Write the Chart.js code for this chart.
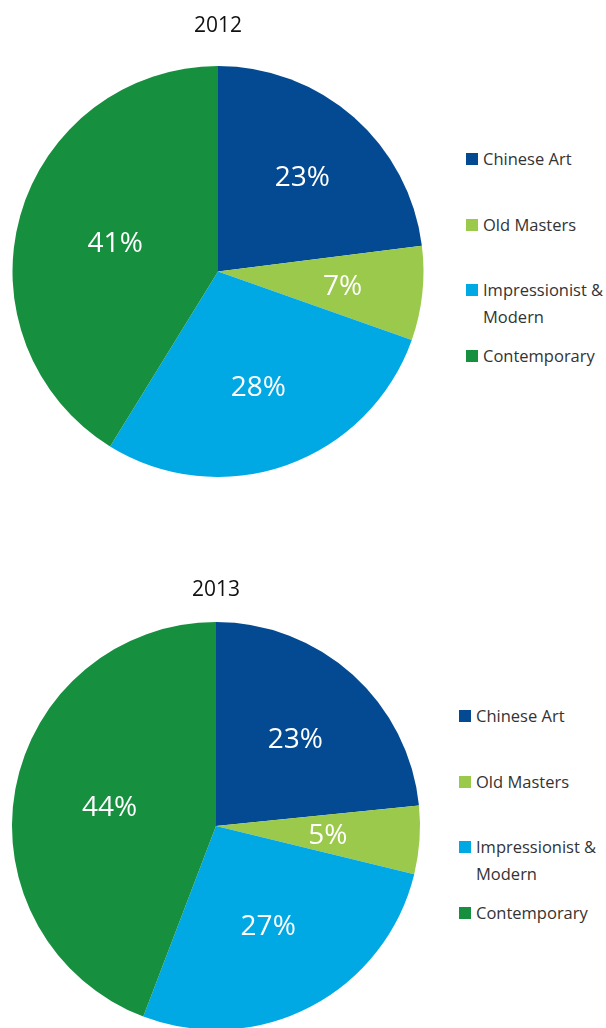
<!DOCTYPE html>
<html>
<head>
<meta charset="utf-8">
<script src="https://cdn.jsdelivr.net/npm/chart.js@4/dist/chart.umd.min.js"></script>
<style>
  html, body { margin:0; padding:0; background:#fff; overflow:hidden; }
  body { width:606px; height:1028px; position:relative; font-family:"Open Sans", sans-serif; }
  .box { position:absolute; }
  .legend { position:absolute; color:#333; font-size:16.5px; line-height:27px; }
  .legend .item { display:flex; align-items:flex-start; height:65.7px; }
  .legend .sw { width:12px; height:12px; margin-top:8px; margin-right:5px; flex:none; }
  .legend .tx { width:132px; }
</style>
</head>
<body>
<div class="box" style="left:0;top:0;width:436px;height:477px"><canvas id="chart2012"></canvas></div>
<div class="legend" id="legend2012" style="left:466px;top:145px"></div>
<div class="box" style="left:0;top:564px;width:432px;height:466px"><canvas id="chart2013"></canvas></div>
<div class="legend" id="legend2013" style="left:459px;top:702px"></div>
<script>
// data (shares in %; labels show them rounded)
const categories = ["Chinese Art", "Old Masters", "Impressionist & Modern", "Contemporary"]
const values2012 = [23.0, 7.4, 28.4, 41.2]
const values2013 = [23.4, 5.4, 27.0, 44.2]
const colores = ["#034a92", "#9bc94b", "#00a8e4", "#16903f"]

// where the % text sits, as a share of the radius (style only)
const labelR2012 = [0.62, 0.61, 0.59, 0.52]
const labelR2013 = [0.58, 0.55, 0.55, 0.53]

// white % labels in the slices
const pctLabels = {
    id: 'pctLabels',
    afterDatasetsDraw(chart, args, opts) {
        const ctx = chart.ctx
        const data = chart.data.datasets[0].data
        chart.getDatasetMeta(0).data.forEach((arc, i) => {
            const mid = (arc.startAngle + arc.endAngle) / 2
            const r = arc.outerRadius * opts.radii[i]
            ctx.save()
            ctx.fillStyle = '#fff'
            ctx.font = '28px "Open Sans"'
            ctx.textAlign = 'center'
            ctx.textBaseline = 'middle'
            ctx.fillText(Math.round(data[i]) + '%', arc.x + Math.cos(mid) * r, arc.y + Math.sin(mid) * r + 2)
            ctx.restore()
        })
    }
}

drawPie = (id, titulo, values, padBottom, radii) => {
    const ctx = document.getElementById(id).getContext('2d')
    return new Chart(ctx, {
        type: 'pie',
        data: {
            labels: categories,
            datasets: [{
                data: values,
                backgroundColor: colores,
                borderWidth: 0
            }]
        },
        options: {
            responsive: true,
            maintainAspectRatio: false,
            animation: false,
            layout: { padding: 0 },
            plugins: {
                legend: { display: false },
                tooltip: { enabled: false },
                pctLabels: { radii: radii },
                title: {
                    display: true,
                    text: titulo,
                    color: '#111',
                    font: { family: 'Open Sans', size: 21, weight: 'normal', lineHeight: 1.2 },
                    padding: { top: 13, bottom: padBottom }
                }
            }
        },
        plugins: [pctLabels]
    })
}

showLegend = (id) => {
    const padre = document.getElementById(id)
    categories.forEach((c, i) => {
        padre.innerHTML += '<div class="item"><span class="sw" style="background:' + colores[i] + '"></span><span class="tx">' + c.replace('&', '&amp;') + '</span></div>'
    })
}

drawPie('chart2012', '2012', values2012, 27.8, labelR2012)
drawPie('chart2013', '2013', values2013, 19.8, labelR2013)
showLegend('legend2012')
showLegend('legend2013')
</script>
</body>
</html>
